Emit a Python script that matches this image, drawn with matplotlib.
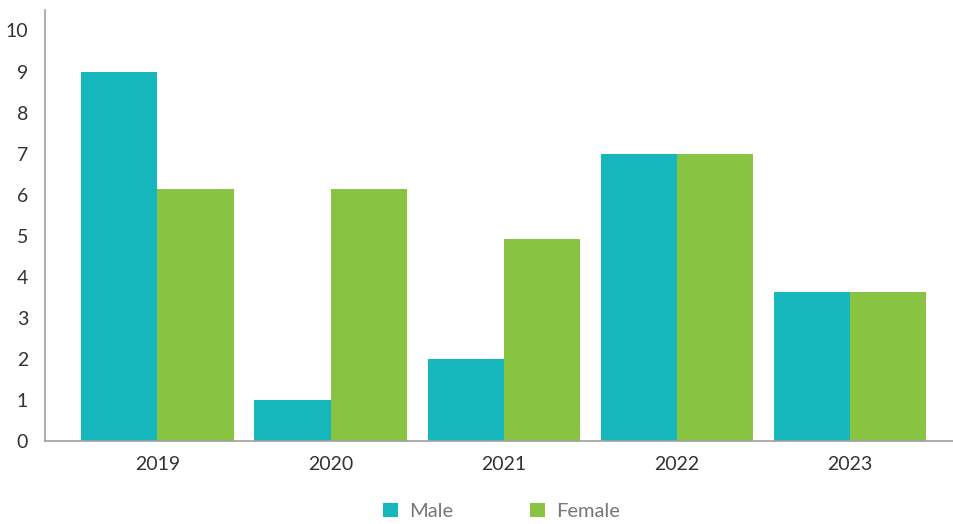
import numpy as np
import matplotlib.pyplot as plt

# Datos
years = ["2019", "2020", "2021", "2022", "2023"]
male = [9, 1, 2, 7, 3.63]
female = [6.15, 6.15, 4.93, 7, 3.63]
y_ticks = list(range(0, 11))

teal = "#15B7BD"
green = "#88C441"

plt.rcParams['font.family'] = ['Lato', 'DejaVu Sans']

fig = plt.figure(figsize=(9.54, 5.24), dpi=100)
ax = fig.add_axes([0.047, 0.158, 0.953, 0.823])

x = np.arange(len(years))
w = 0.44
ax.bar(x - w / 2, male, width=w, color=teal, label="Male")
ax.bar(x + w / 2, female, width=w, color=green, label="Female")

ax.set_xlim(-0.65, 4.6)
ax.set_ylim(0, 10.5)
ax.set_yticks(y_ticks)
ax.set_xticks(x)
ax.set_xticklabels(years)
ax.tick_params(length=0, labelsize=14, colors="#333333")
ax.tick_params(axis="y", pad=12)
ax.tick_params(axis="x", pad=11)

for s in ["top", "right"]:
    ax.spines[s].set_visible(False)
for s in ["left", "bottom"]:
    ax.spines[s].set_color("#a0a0a0")
    ax.spines[s].set_linewidth(1.2)

leg = fig.legend(loc="lower center", bbox_to_anchor=(0.526, -0.027), ncol=2,
                 frameon=False, fontsize=14.5, handlelength=0.75, handleheight=0.75,
                 columnspacing=3.8, handletextpad=0.55)
for t in leg.get_texts():
    t.set_color("#777777")

fig.savefig("out.png", dpi=100)
